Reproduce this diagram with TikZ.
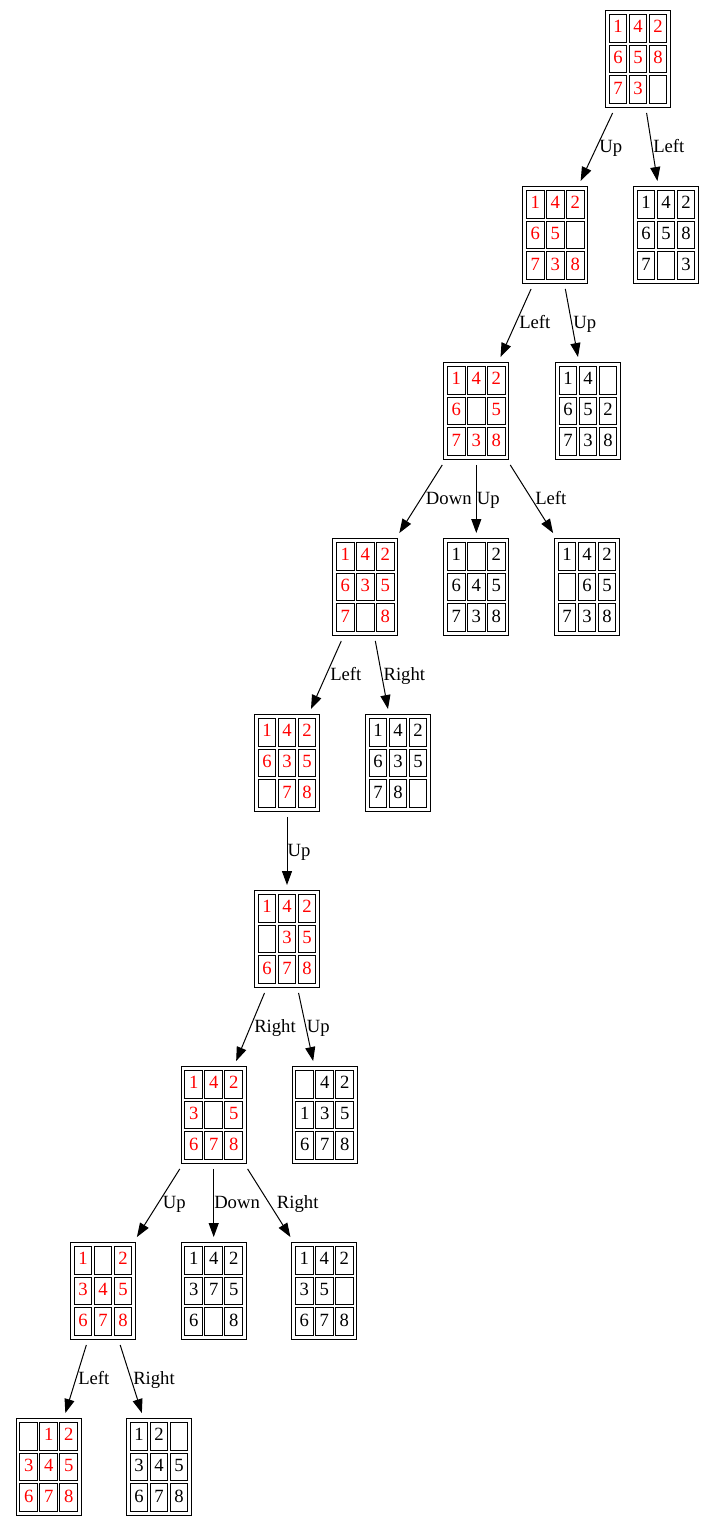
\documentclass[tikz,border=0pt]{standalone}
\usepackage{fontspec}
\setmainfont{Liberation Serif}
\usetikzlibrary{calc,arrows.meta}
\tikzset{
  board/.style={draw, line width=0.75pt, minimum width=48.75pt, minimum height=72.75pt, inner sep=0pt, outer sep=4.1pt},
  cell/.style={draw, line width=0.8pt, minimum width=13.2pt, minimum height=20.7pt, inner sep=0pt,
    font=\fontsize{14pt}{16pt}\selectfont, text height=0.68em, text depth=0pt},
  conn/.style={line width=0.75pt, -{Triangle[length=10.5pt,width=7.5pt]}},
  lbl/.style={anchor=base west, inner sep=0pt, font=\fontsize{14pt}{16pt}\selectfont}
}
\newcommand\puzzleboard[4]{%
  \node[board] (#1) at #2 {};
  \foreach \v [count=\i from 0] in {#4} {
    \pgfmathtruncatemacro\cc{mod(\i,3)}
    \pgfmathtruncatemacro\rr{div(\i,3)}
    \node[cell, text=#3] at ($(#1.center)+({(\cc-1)*20},{(\rr-1)*30.67})$) {\ifnum\v=0\relax\else\v\fi};
  }
}
\begin{document}
\begin{tikzpicture}[x=0.75pt,y=-0.75pt]
\useasboundingbox (0,0) rectangle (715,1527);
\puzzleboard{r}{(638,59)}{red}{1,4,2,6,5,8,7,3,0}
\puzzleboard{a}{(555.3,235)}{red}{1,4,2,6,5,0,7,3,8}
\puzzleboard{b}{(666,235)}{black}{1,4,2,6,5,8,7,0,3}
\puzzleboard{c}{(476.3,411)}{red}{1,4,2,6,0,5,7,3,8}
\puzzleboard{d}{(588,411)}{black}{1,4,0,6,5,2,7,3,8}
\puzzleboard{e}{(365.3,587)}{red}{1,4,2,6,3,5,7,0,8}
\puzzleboard{f}{(476.3,587)}{black}{1,0,2,6,4,5,7,3,8}
\puzzleboard{g}{(587,587)}{black}{1,4,2,0,6,5,7,3,8}
\puzzleboard{h}{(287,763)}{red}{1,4,2,6,3,5,0,7,8}
\puzzleboard{i}{(398,763)}{black}{1,4,2,6,3,5,7,8,0}
\puzzleboard{j}{(287,939)}{red}{1,4,2,0,3,5,6,7,8}
\puzzleboard{k}{(213.7,1115)}{red}{1,4,2,3,0,5,6,7,8}
\puzzleboard{l}{(324.7,1115)}{black}{0,4,2,1,3,5,6,7,8}
\puzzleboard{m}{(103,1291)}{red}{1,0,2,3,4,5,6,7,8}
\puzzleboard{n}{(213.7,1291)}{black}{1,4,2,3,7,5,6,0,8}
\puzzleboard{o}{(324.3,1291)}{black}{1,4,2,3,5,0,6,7,8}
\puzzleboard{p}{(48.7,1467)}{red}{0,1,2,3,4,5,6,7,8}
\puzzleboard{q}{(159,1467)}{black}{1,2,0,3,4,5,6,7,8}
% connectors
\draw[conn] (r) -- (a);
\draw[conn] (r) -- (b);
\draw[conn] (a) -- (c);
\draw[conn] (a) -- (d);
\draw[conn] (c) -- (e);
\draw[conn] (c) -- (f);
\draw[conn] (c) -- (g);
\draw[conn] (e) -- (h);
\draw[conn] (e) -- (i);
\draw[conn] (h) -- (j);
\draw[conn] (j) -- (k);
\draw[conn] (j) -- (l);
\draw[conn] (k) -- (m);
\draw[conn] (k) -- (n);
\draw[conn] (k) -- (o);
\draw[conn] (m) -- (p);
\draw[conn] (m) -- (q);
% labels
\node[lbl] (t1) at (599,152.5) {Up};
\node[lbl] (t2) at (653,152.5) {Left};
\node[lbl] (t3) at (519,328.5) {Left};
\node[lbl] (t4) at (573,328.5) {Up};
\node[lbl] (t5) at (425.7,504.5) {Down};
\node[lbl] (t6) at (476.7,504.5) {Up};
\node[lbl] (t7) at (535,504.5) {Left};
\node[lbl] (t8) at (330,680.5) {Left};
\node[lbl] (t9) at (383.3,680.5) {Right};
\node[lbl] (t10) at (287.3,856.5) {Up};
\node[lbl] (t11) at (254,1032.5) {Right};
\node[lbl] (t12) at (306.7,1032.5) {Up};
\node[lbl] (t13) at (162.7,1208.5) {Up};
\node[lbl] (t14) at (214,1208.5) {Down};
\node[lbl] (t15) at (276.7,1208.5) {Right};
\node[lbl] (t16) at (78,1384.5) {Left};
\node[lbl] (t17) at (133,1384.5) {Right};
\end{tikzpicture}
\end{document}
